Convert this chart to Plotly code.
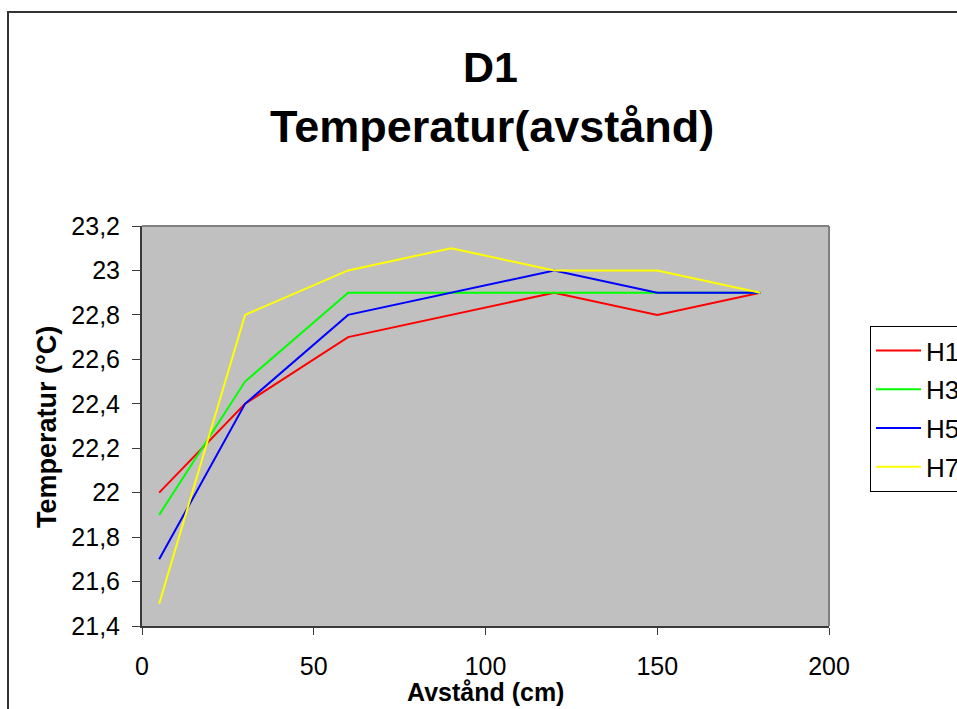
import plotly.graph_objects as go

# Distance from the heat source (cm) and measured temperatures (°C)
avstand = [5, 30, 60, 90, 120, 150, 180]
h1 = [22.0, 22.4, 22.7, 22.8, 22.9, 22.8, 22.9]
h3 = [21.9, 22.5, 22.9, 22.9, 22.9, 22.9, 22.9]
h5 = [21.7, 22.4, 22.8, 22.9, 23.0, 22.9, 22.9]
h7 = [21.5, 22.8, 23.0, 23.1, 23.0, 23.0, 22.9]

series_names = ["H1", "H3", "H5", "H7"]
series_colors = ["#FF0000", "#00FF00", "#0000FF", "#FFFF00"]

y_tickvals = [21.4, 21.6, 21.8, 22.0, 22.2, 22.4, 22.6, 22.8, 23.0, 23.2]
y_ticktext = ["21,4", "21,6", "21,8", "22", "22,2", "22,4", "22,6", "22,8", "23", "23,2"]
x_tickvals = [0, 50, 100, 150, 200]
x_ticktext = ["0", "50", "100", "150", "200"]

FONT = "Liberation Sans, Arial, sans-serif"

# plot-area geometry in pixels
W, H = 957, 709
L, R, T, B = 142, 829, 226, 626
pw, ph = R - L, B - T


def px_x(px):
    return (px - L) / pw


def px_y(py):
    return (B - py) / ph


fig = go.Figure()
for name, vals, col in zip(series_names, [h1, h3, h5, h7], series_colors):
    fig.add_trace(go.Scatter(
        x=avstand, y=vals, mode="lines", name=name, legendgroup=name,
        line=dict(color=col, width=2),
    ))

fig.update_layout(
    width=W, height=H,
    margin=dict(l=L, r=W - R, t=T, b=H - B, autoexpand=False),
    paper_bgcolor="white",
    plot_bgcolor="#C0C0C0",
    font=dict(family=FONT, size=25, color="black"),
    showlegend=True,
    legend=dict(
        x=px_x(870), y=px_y(326), xanchor="left", yanchor="top",
        bgcolor="white", bordercolor="black", borderwidth=1,
        font=dict(family=FONT, size=26, color="black"),
        tracegroupgap=2, itemwidth=45,
    ),
    xaxis=dict(
        range=[0, 200], tickvals=x_tickvals, ticktext=x_ticktext,
        showgrid=False, zeroline=False,
        showline=True, linecolor="#3a3a3a", linewidth=2,
        ticks="outside", ticklen=7, tickwidth=1, tickcolor="#3a3a3a",
        ticklabelstandoff=10,
        tickfont=dict(family=FONT, size=25),
    ),
    yaxis=dict(
        range=[21.4, 23.2], tickvals=y_tickvals, ticktext=y_ticktext,
        showgrid=False, zeroline=False,
        showline=True, linecolor="#3a3a3a", linewidth=2,
        ticks="outside", ticklen=8, tickwidth=1, tickcolor="#3a3a3a",
        ticklabelstandoff=7,
        tickfont=dict(family=FONT, size=25),
    ),
    shapes=[
        # outer chart-area frame
        dict(type="rect", xref="paper", yref="paper",
             x0=px_x(8), y0=px_y(760), x1=px_x(1000), y1=px_y(12),
             line=dict(color="#333333", width=2), layer="below"),
        # plot-area frame (top and right edges)
        dict(type="line", xref="paper", yref="paper",
             x0=0, y0=1, x1=1, y1=1,
             line=dict(color="#808080", width=2), layer="below"),
        dict(type="line", xref="paper", yref="paper",
             x0=1, y0=0, x1=1, y1=1,
             line=dict(color="#808080", width=2), layer="below"),
    ],
    annotations=[
        dict(text="<b>D1</b>", xref="paper", yref="paper",
             x=px_x(490), y=px_y(67), xanchor="center", yanchor="middle",
             showarrow=False, font=dict(family=FONT, size=43)),
        dict(text="<b>Temperatur(avstånd)</b>", xref="paper", yref="paper",
             x=px_x(492), y=px_y(126), xanchor="center", yanchor="middle",
             showarrow=False, font=dict(family=FONT, size=45)),
        dict(text="<b>Avstånd (cm)</b>", xref="paper", yref="paper",
             x=px_x(485), y=px_y(692), xanchor="center", yanchor="middle",
             showarrow=False, font=dict(family=FONT, size=25)),
        dict(text="<b>Temperatur (°C)</b>", xref="paper", yref="paper",
             x=px_x(47), y=px_y(427), xanchor="center", yanchor="middle",
             textangle=-90, showarrow=False, font=dict(family=FONT, size=27)),
    ],
)

fig.write_html("out.html")
